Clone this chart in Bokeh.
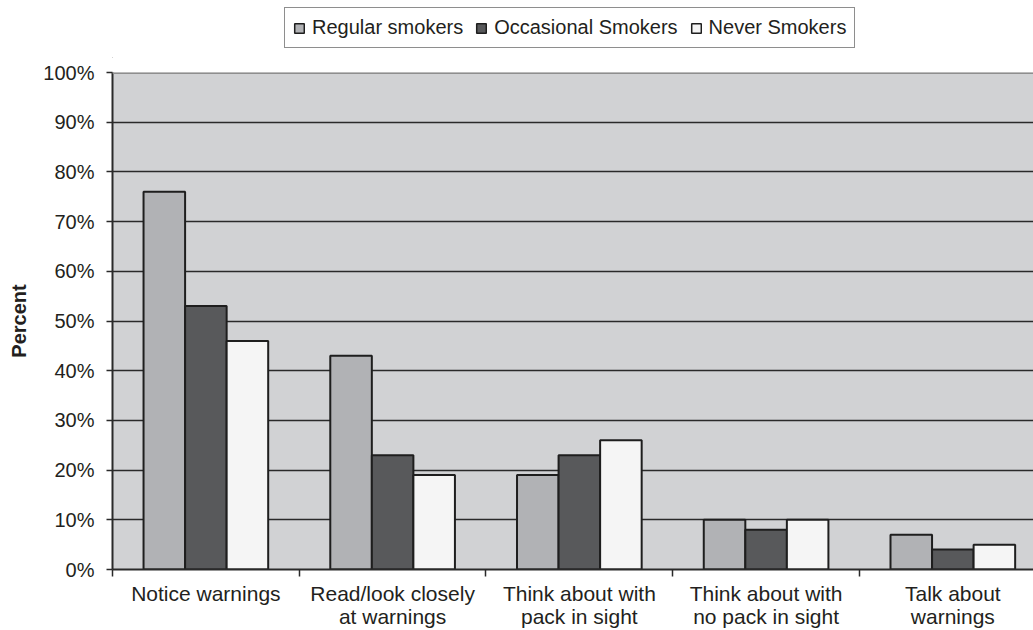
from bokeh.plotting import figure
from bokeh.layouts import column
from bokeh.models import FixedTicker, Range1d, Span, Legend, LegendItem
from bokeh.embed import file_html
from bokeh.resources import INLINE

categories = ["Notice warnings", "Read/look closely\nat warnings", "Think about with\npack in sight",
              "Think about with\nno pack in sight", "Talk about\nwarnings"]
series_names = ["Regular smokers", "Occasional Smokers", "Never Smokers"]
regular = [76, 43, 19, 10, 7]
occasional = [53, 23, 23, 8, 4]
never = [46, 19, 26, 10, 5]
y_ticks = [0, 10, 20, 30, 40, 50, 60, 70, 80, 90, 100]
y_tick_labels = ["0%", "10%", "20%", "30%", "40%", "50%", "60%", "70%", "80%", "90%", "100%"]

colors = ["#b1b2b5", "#58595b", "#f5f5f5"]
FONT = "Liberation Sans"
TXT = "#231f20"
EDGE = "#1e1e1e"

# ---------- legend strip (top) ----------
lg = figure(width=1033, height=58, output_backend="svg", toolbar_location=None,
            x_range=Range1d(0, 1), y_range=Range1d(0, 1),
            x_axis_location=None, y_axis_location=None,
            min_border_left=112, min_border_right=0, min_border_top=0, min_border_bottom=0)
lg.outline_line_color = None
lg.grid.visible = False
lg.background_fill_color = "white"
lg_renderers = []
for col in colors:
    r = lg.vbar(x=[-10], top=[0], bottom=[0], width=0.1, fill_color=col, line_color=EDGE, line_width=1.5)
    lg_renderers.append(r)
legend = Legend(items=[LegendItem(label=n, renderers=[r], index=0) for n, r in zip(series_names, lg_renderers)],
                orientation="horizontal", location=(172, 10))
legend.label_text_font = FONT
legend.label_text_font_size = "20px"
legend.label_text_color = TXT
legend.glyph_width = 12
legend.glyph_height = 12
legend.label_standoff = 7
legend.spacing = 12
legend.padding = 8
legend.margin = 0
legend.border_line_color = EDGE
legend.border_line_width = 1.5
legend.background_fill_color = "white"
legend.background_fill_alpha = 1
lg.add_layout(legend, "center")

# ---------- main chart ----------
p = figure(width=1033, height=572, output_backend="svg", toolbar_location=None,
           x_range=Range1d(0, 4.932), y_range=Range1d(0, 100),
           min_border_left=112, min_border_top=14, min_border_right=0, min_border_bottom=61)
p.background_fill_color = "#d1d2d4"
p.border_fill_color = "white"
p.outline_line_color = None

bw = 0.2225
offsets = [-bw, 0.0, bw]
for vals, off, col in zip([regular, occasional, never], offsets, colors):
    xs = [i + 0.5 + off for i in range(len(categories))]
    p.vbar(x=xs, top=vals, bottom=0, width=bw, fill_color=col,
           line_color=EDGE, line_width=2)

p.xgrid.visible = False
p.ygrid.ticker = FixedTicker(ticks=y_ticks[1:-1])
p.ygrid.grid_line_color = "#2a2a2a"
p.ygrid.grid_line_width = 1.6
p.add_layout(Span(location=100, dimension="width", line_color="#8e8e8e", line_width=3))

ya = p.yaxis[0]
ya.ticker = FixedTicker(ticks=y_ticks)
ya.major_label_overrides = {t: l for t, l in zip(y_ticks, y_tick_labels)}
ya.major_tick_out = 6
ya.major_tick_in = 0
ya.minor_tick_out = 0
ya.minor_tick_in = 0
ya.axis_line_width = 2
ya.axis_line_color = "#2a2a2a"
ya.major_tick_line_color = "#2a2a2a"
ya.major_tick_line_width = 1.5
ya.major_label_text_font = FONT
ya.major_label_text_font_size = "20px"
ya.major_label_text_color = TXT
ya.major_label_standoff = 12
ya.axis_label = "Percent"
ya.axis_label_text_font = FONT
ya.axis_label_text_font_style = "bold"
ya.axis_label_text_font_size = "20px"
ya.axis_label_text_color = TXT
ya.axis_label_standoff = 10

xa = p.xaxis[0]
centers = [i + 0.5 for i in range(len(categories))]
xa.ticker = FixedTicker(ticks=centers, minor_ticks=list(range(len(categories) + 1)))
xa.major_label_overrides = {c: l for c, l in zip(centers, categories)}
xa.major_tick_out = 0
xa.major_tick_in = 0
xa.minor_tick_out = 7
xa.minor_tick_in = 0
xa.minor_tick_line_color = "#2a2a2a"
xa.minor_tick_line_width = 1.5
xa.axis_line_width = 2
xa.axis_line_color = "#2a2a2a"
xa.major_label_text_font = FONT
xa.major_label_text_font_size = "21px"
xa.major_label_text_color = TXT
xa.major_label_text_line_height = 1.0
xa.major_label_standoff = 5

layout = column(lg, p, spacing=0)
open("out.html", "w").write(file_html(layout, INLINE))
